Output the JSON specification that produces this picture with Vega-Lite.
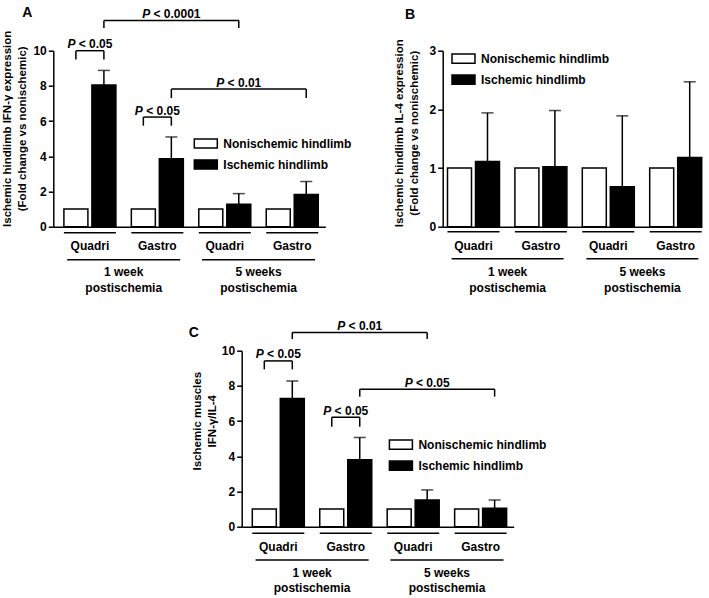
{
  "$schema": "https://vega.github.io/schema/vega-lite/v6.json",
  "autosize": {"type": "none"},
  "padding": {"left": 53.3, "top": 50.7, "right": 655.7, "bottom": 547.3},
  "background": "white",
  "datasets": {
    "bars": [
      {"panel": "A", "group": "1 week Quadri", "condition": "Nonischemic hindlimb", "value": 1},
      {"panel": "A", "group": "1 week Quadri", "condition": "Ischemic hindlimb", "value": 8.05, "hi": 8.88},
      {"panel": "A", "group": "1 week Gastro", "condition": "Nonischemic hindlimb", "value": 1},
      {"panel": "A", "group": "1 week Gastro", "condition": "Ischemic hindlimb", "value": 3.86, "hi": 5.1},
      {"panel": "A", "group": "5 weeks Quadri", "condition": "Nonischemic hindlimb", "value": 1},
      {"panel": "A", "group": "5 weeks Quadri", "condition": "Ischemic hindlimb", "value": 1.27, "hi": 1.88},
      {"panel": "A", "group": "5 weeks Gastro", "condition": "Nonischemic hindlimb", "value": 1},
      {"panel": "A", "group": "5 weeks Gastro", "condition": "Ischemic hindlimb", "value": 1.83, "hi": 2.57},
      {"panel": "B", "group": "1 week Quadri", "condition": "Nonischemic hindlimb", "value": 1},
      {"panel": "B", "group": "1 week Quadri", "condition": "Ischemic hindlimb", "value": 1.11, "hi": 1.94},
      {"panel": "B", "group": "1 week Gastro", "condition": "Nonischemic hindlimb", "value": 1},
      {"panel": "B", "group": "1 week Gastro", "condition": "Ischemic hindlimb", "value": 1.02, "hi": 1.98},
      {"panel": "B", "group": "5 weeks Quadri", "condition": "Nonischemic hindlimb", "value": 1},
      {"panel": "B", "group": "5 weeks Quadri", "condition": "Ischemic hindlimb", "value": 0.68, "hi": 1.89},
      {"panel": "B", "group": "5 weeks Gastro", "condition": "Nonischemic hindlimb", "value": 1},
      {"panel": "B", "group": "5 weeks Gastro", "condition": "Ischemic hindlimb", "value": 1.18, "hi": 2.47},
      {"panel": "C", "group": "1 week Quadri", "condition": "Nonischemic hindlimb", "value": 1},
      {"panel": "C", "group": "1 week Quadri", "condition": "Ischemic hindlimb", "value": 7.28, "hi": 8.28},
      {"panel": "C", "group": "1 week Gastro", "condition": "Nonischemic hindlimb", "value": 1},
      {"panel": "C", "group": "1 week Gastro", "condition": "Ischemic hindlimb", "value": 3.8, "hi": 5.07},
      {"panel": "C", "group": "5 weeks Quadri", "condition": "Nonischemic hindlimb", "value": 1},
      {"panel": "C", "group": "5 weeks Quadri", "condition": "Ischemic hindlimb", "value": 1.52, "hi": 2.09},
      {"panel": "C", "group": "5 weeks Gastro", "condition": "Nonischemic hindlimb", "value": 1},
      {"panel": "C", "group": "5 weeks Gastro", "condition": "Ischemic hindlimb", "value": 1.05, "hi": 1.52}
    ],
    "pairs": [
      {"panel": "A", "group": "1 week Quadri", "top": 10.0, "leg": 9.5, "label": "< 0.05"},
      {"panel": "A", "group": "1 week Gastro", "top": 6.23, "leg": 5.74, "label": "< 0.05"},
      {"panel": "C", "group": "1 week Quadri", "top": 9.42, "leg": 8.94, "label": "< 0.05"},
      {"panel": "C", "group": "1 week Gastro", "top": 6.22, "leg": 5.68, "label": "< 0.05"}
    ],
    "cross": [
      {"panel": "A", "from": "1 week Quadri", "to": "5 weeks Quadri", "mid": "1 week Gastro", "top": 11.72, "leg": 11.29, "label": "< 0.0001"},
      {"panel": "A", "from": "1 week Gastro", "to": "5 weeks Gastro", "mid": "5 weeks Quadri", "top": 7.82, "leg": 7.31, "label": "< 0.01"},
      {"panel": "C", "from": "1 week Quadri", "to": "5 weeks Quadri", "mid": "1 week Gastro", "top": 11.04, "leg": 10.66, "label": "< 0.01"},
      {"panel": "C", "from": "1 week Gastro", "to": "5 weeks Gastro", "mid": "5 weeks Quadri", "top": 7.81, "leg": 7.39, "label": "< 0.05"}
    ],
    "groups": [
      {"group": "1 week Quadri", "muscle": "Quadri"},
      {"group": "1 week Gastro", "muscle": "Gastro"},
      {"group": "5 weeks Quadri", "muscle": "Quadri"},
      {"group": "5 weeks Gastro", "muscle": "Gastro"}
    ],
    "weeks": [
      {"week": "1 week", "label": "1 week\npostischemia"},
      {"week": "5 weeks", "label": "5 weeks\npostischemia"}
    ]
  },
  "config": {
    "font": "Liberation Sans",
    "view": {"stroke": null},
    "axis": {"domainColor": "black", "domainWidth": 1.5, "tickColor": "black", "tickWidth": 1.5, "tickSize": 5, "labelFont": "Liberation Sans", "labelFontSize": 12, "labelFontWeight": "bold", "labelColor": "black", "labelPadding": 2, "labelOverlap": false, "labelBound": false, "titleFont": "Liberation Sans", "titleFontSize": 11.5, "titleFontWeight": "bold", "titleColor": "black", "titleLineHeight": 15, "titleBaseline": "middle", "grid": false},
    "legend": {"orient": "none", "padding": 0, "symbolType": "M-1,-0.4H1V0.4H-1Z", "symbolSize": 529, "symbolStrokeColor": "black", "symbolStrokeWidth": 1.5, "symbolOpacity": 1, "labelFont": "Liberation Sans", "labelFontSize": 12, "labelFontWeight": "bold", "labelColor": "black", "labelOffset": 5, "rowPadding": -2.3, "labelLimit": 300},
    "text": {"font": "Liberation Sans", "fontSize": 12, "fontWeight": "bold", "color": "black"},
    "rule": {"color": "black", "strokeWidth": 1.5},
    "tick": {"color": "black", "thickness": 1.5},
    "title": {"font": "Liberation Sans", "fontSize": 14, "fontWeight": "bold", "color": "black", "anchor": "start", "frame": "group"}
  },
  "vconcat": [
    {
      "hconcat": [
        {
          "width": 272, "height": 176,
          "title": {"text": "A", "dx": -31, "dy": 16},
          "resolve": {"scale": {"x": "independent"}, "axis": {"x": "independent"}},
          "layer": [
            {"layer": [
              {"data": {"name": "bars"}, "transform": [{"filter": "datum.panel == 'A'"}],
               "mark": {"type": "bar", "stroke": "black", "strokeWidth": 1.5},
               "encoding": {
                 "x": {"field": "group", "type": "nominal", "title": null, "scale": {"domain": ["1 week Quadri", "1 week Gastro", "5 weeks Quadri", "5 weeks Gastro"], "paddingInner": 0.229, "paddingOuter": 0.131, "align": 0.6}, "axis": {"labels": false, "ticks": false, "title": null}},
                 "xOffset": {"field": "condition", "type": "nominal", "scale": {"domain": ["Nonischemic hindlimb", "Ischemic hindlimb"], "paddingInner": 0.143, "paddingOuter": 0}},
                 "y": {"field": "value", "type": "quantitative", "scale": {"domain": [0, 10], "nice": false}, "axis": {"title": ["Ischemic hindlimb IFN-γ expression", "(Fold change vs nonischemic)"], "values": [0, 2, 4, 6, 8, 10], "tickCount": 6, "format": "d", "labelOverlap": false, "titleX": -46, "titleY": 77.6}},
                 "fill": {"field": "condition", "type": "nominal", "scale": {"domain": ["Nonischemic hindlimb", "Ischemic hindlimb"], "range": ["white", "black"]}, "legend": {"title": null, "legendX": 140, "legendY": 80.3}}
               }},
              {"data": {"name": "bars"}, "transform": [{"filter": "datum.panel == 'A' && isValid(datum.hi)"}],
               "mark": {"type": "rule", "strokeWidth": 1.5},
               "encoding": {
                 "x": {"field": "group", "type": "nominal", "scale": {"domain": ["1 week Quadri", "1 week Gastro", "5 weeks Quadri", "5 weeks Gastro"]}},
                 "xOffset": {"field": "condition", "type": "nominal", "scale": {"domain": ["Nonischemic hindlimb", "Ischemic hindlimb"]}},
                 "y": {"field": "value", "type": "quantitative", "scale": {"domain": [0, 10], "nice": false}},
                 "y2": {"field": "hi"}
               }},
              {"data": {"name": "bars"}, "transform": [{"filter": "datum.panel == 'A' && isValid(datum.hi)"}],
               "mark": {"type": "tick", "size": 12, "thickness": 1.5},
               "encoding": {
                 "x": {"field": "group", "type": "nominal", "scale": {"domain": ["1 week Quadri", "1 week Gastro", "5 weeks Quadri", "5 weeks Gastro"]}},
                 "xOffset": {"field": "condition", "type": "nominal", "scale": {"domain": ["Nonischemic hindlimb", "Ischemic hindlimb"]}},
                 "y": {"field": "hi", "type": "quantitative", "scale": {"domain": [0, 10], "nice": false}}
               }},
              {"data": {"name": "pairs"}, "transform": [{"filter": "datum.panel == 'A'"}],
               "mark": {"type": "rule"},
               "encoding": {
                 "x": {"field": "group", "type": "nominal", "bandPosition": 0.2308, "scale": {"domain": ["1 week Quadri", "1 week Gastro", "5 weeks Quadri", "5 weeks Gastro"]}},
                 "x2": {"field": "group", "bandPosition": 0.7692},
                 "y": {"field": "top", "type": "quantitative", "scale": {"domain": [0, 10], "nice": false}}
               }},
              {"data": {"name": "pairs"}, "transform": [{"filter": "datum.panel == 'A'"}],
               "mark": {"type": "rule"},
               "encoding": {
                 "x": {"field": "group", "type": "nominal", "bandPosition": 0.2308, "scale": {"domain": ["1 week Quadri", "1 week Gastro", "5 weeks Quadri", "5 weeks Gastro"]}},
                 "y": {"field": "top", "type": "quantitative", "scale": {"domain": [0, 10], "nice": false}},
                 "y2": {"field": "leg"}
               }},
              {"data": {"name": "pairs"}, "transform": [{"filter": "datum.panel == 'A'"}],
               "mark": {"type": "rule"},
               "encoding": {
                 "x": {"field": "group", "type": "nominal", "bandPosition": 0.7692, "scale": {"domain": ["1 week Quadri", "1 week Gastro", "5 weeks Quadri", "5 weeks Gastro"]}},
                 "y": {"field": "top", "type": "quantitative", "scale": {"domain": [0, 10], "nice": false}},
                 "y2": {"field": "leg"}
               }},
              {"data": {"name": "pairs"}, "transform": [{"filter": "datum.panel == 'A'"}],
               "mark": {"type": "text", "fontStyle": "italic", "align": "right", "baseline": "alphabetic", "dx": -14.5, "dy": -2.5},
               "encoding": {
                 "x": {"field": "group", "type": "nominal", "scale": {"domain": ["1 week Quadri", "1 week Gastro", "5 weeks Quadri", "5 weeks Gastro"]}},
                 "y": {"field": "top", "type": "quantitative", "scale": {"domain": [0, 10], "nice": false}},
                 "text": {"value": "P"}
               }},
              {"data": {"name": "pairs"}, "transform": [{"filter": "datum.panel == 'A'"}],
               "mark": {"type": "text", "align": "left", "baseline": "alphabetic", "dx": -11.2, "dy": -2.5},
               "encoding": {
                 "x": {"field": "group", "type": "nominal", "scale": {"domain": ["1 week Quadri", "1 week Gastro", "5 weeks Quadri", "5 weeks Gastro"]}},
                 "y": {"field": "top", "type": "quantitative", "scale": {"domain": [0, 10], "nice": false}},
                 "text": {"field": "label"}
               }},
              {"data": {"name": "cross"}, "transform": [{"filter": "datum.panel == 'A'"}],
               "mark": {"type": "rule"},
               "encoding": {
                 "x": {"field": "from", "type": "nominal", "bandPosition": 0.7692, "scale": {"domain": ["1 week Quadri", "1 week Gastro", "5 weeks Quadri", "5 weeks Gastro"]}},
                 "x2": {"field": "to", "bandPosition": 0.7692},
                 "y": {"field": "top", "type": "quantitative", "scale": {"domain": [0, 10], "nice": false}}
               }},
              {"data": {"name": "cross"}, "transform": [{"filter": "datum.panel == 'A'"}],
               "mark": {"type": "rule"},
               "encoding": {
                 "x": {"field": "from", "type": "nominal", "bandPosition": 0.7692, "scale": {"domain": ["1 week Quadri", "1 week Gastro", "5 weeks Quadri", "5 weeks Gastro"]}},
                 "y": {"field": "top", "type": "quantitative", "scale": {"domain": [0, 10], "nice": false}},
                 "y2": {"field": "leg"}
               }},
              {"data": {"name": "cross"}, "transform": [{"filter": "datum.panel == 'A'"}],
               "mark": {"type": "rule"},
               "encoding": {
                 "x": {"field": "to", "type": "nominal", "bandPosition": 0.7692, "scale": {"domain": ["1 week Quadri", "1 week Gastro", "5 weeks Quadri", "5 weeks Gastro"]}},
                 "y": {"field": "top", "type": "quantitative", "scale": {"domain": [0, 10], "nice": false}},
                 "y2": {"field": "leg"}
               }},
              {"data": {"name": "cross"}, "transform": [{"filter": "datum.panel == 'A'"}],
               "mark": {"type": "text", "fontStyle": "italic", "align": "right", "baseline": "alphabetic", "dx": {"expr": "length(datum.label) > 6 ? -21.2 : -14.5"}, "dy": -2.5},
               "encoding": {
                 "x": {"field": "mid", "type": "nominal", "bandPosition": 0.7692, "scale": {"domain": ["1 week Quadri", "1 week Gastro", "5 weeks Quadri", "5 weeks Gastro"]}},
                 "y": {"field": "top", "type": "quantitative", "scale": {"domain": [0, 10], "nice": false}},
                 "text": {"value": "P"}
               }},
              {"data": {"name": "cross"}, "transform": [{"filter": "datum.panel == 'A'"}],
               "mark": {"type": "text", "align": "left", "baseline": "alphabetic", "dx": {"expr": "length(datum.label) > 6 ? -17.9 : -11.2"}, "dy": -2.5},
               "encoding": {
                 "x": {"field": "mid", "type": "nominal", "bandPosition": 0.7692, "scale": {"domain": ["1 week Quadri", "1 week Gastro", "5 weeks Quadri", "5 weeks Gastro"]}},
                 "y": {"field": "top", "type": "quantitative", "scale": {"domain": [0, 10], "nice": false}},
                 "text": {"field": "label"}
               }},
              {"data": {"name": "groups"},
               "mark": {"type": "rule", "yOffset": 6, "y2Offset": 6},
               "encoding": {
                 "x": {"field": "group", "type": "nominal", "bandPosition": 0, "scale": {"domain": ["1 week Quadri", "1 week Gastro", "5 weeks Quadri", "5 weeks Gastro"]}},
                 "x2": {"field": "group", "bandPosition": 1},
                 "y": {"datum": 0, "type": "quantitative", "scale": {"domain": [0, 10], "nice": false}}
               }},
              {"data": {"name": "groups"},
               "mark": {"type": "text", "baseline": "middle", "dy": 19},
               "encoding": {
                 "x": {"field": "group", "type": "nominal", "scale": {"domain": ["1 week Quadri", "1 week Gastro", "5 weeks Quadri", "5 weeks Gastro"]}},
                 "y": {"datum": 0, "type": "quantitative", "scale": {"domain": [0, 10], "nice": false}},
                 "text": {"field": "muscle"}
               }}
            ]},
            {"data": {"name": "weeks"},
             "layer": [
              {"mark": {"type": "rule", "yOffset": 33, "y2Offset": 33},
               "encoding": {
                 "x": {"field": "week", "type": "nominal", "bandPosition": 0, "scale": {"domain": ["1 week", "5 weeks"], "paddingInner": 0.162, "paddingOuter": 0.0893, "align": 0.577}, "axis": null},
                 "x2": {"field": "week", "bandPosition": 1},
                 "y": {"datum": 0, "type": "quantitative", "scale": {"domain": [0, 10], "nice": false}}
               }},
              {"mark": {"type": "text", "lineBreak": "\n", "lineHeight": 16.5, "baseline": "middle", "dy": 45},
               "encoding": {
                 "x": {"field": "week", "type": "nominal", "scale": {"domain": ["1 week", "5 weeks"], "paddingInner": 0.162, "paddingOuter": 0.0893, "align": 0.577}, "axis": null},
                 "y": {"datum": 0, "type": "quantitative", "scale": {"domain": [0, 10], "nice": false}},
                 "text": {"field": "label"}
               }}
             ]}
          ]
        },
        {
          "width": 259, "height": 176,
          "title": {"text": "B", "dx": -37.7, "dy": -13.2},
          "resolve": {"scale": {"x": "independent"}, "axis": {"x": "independent"}},
          "layer": [
            {"layer": [
              {"data": {"name": "bars"}, "transform": [{"filter": "datum.panel == 'B'"}],
               "mark": {"type": "bar", "stroke": "black", "strokeWidth": 1.5},
               "encoding": {
                 "x": {"field": "group", "type": "nominal", "title": null, "scale": {"domain": ["1 week Quadri", "1 week Gastro", "5 weeks Quadri", "5 weeks Gastro"], "paddingInner": 0.2285, "paddingOuter": 0.0356, "align": 1}, "axis": {"labels": false, "ticks": false, "title": null}},
                 "xOffset": {"field": "condition", "type": "nominal", "scale": {"domain": ["Nonischemic hindlimb", "Ischemic hindlimb"], "paddingInner": 0.143, "paddingOuter": 0}},
                 "y": {"field": "value", "type": "quantitative", "scale": {"domain": [0, 3], "nice": false}, "axis": {"title": ["Ischemic hindlimb IL-4 expression", "(Fold change vs nonischemic)"], "values": [0, 1, 2, 3], "tickCount": 4, "format": "d", "labelOverlap": false, "titleX": -43.5, "titleY": 82}},
                 "fill": {"field": "condition", "type": "nominal", "scale": {"domain": ["Nonischemic hindlimb", "Ischemic hindlimb"], "range": ["white", "black"]}, "legend": {"title": null, "legendX": 8.3, "legendY": -4.5}}
               }},
              {"data": {"name": "bars"}, "transform": [{"filter": "datum.panel == 'B' && isValid(datum.hi)"}],
               "mark": {"type": "rule", "strokeWidth": 1.5},
               "encoding": {
                 "x": {"field": "group", "type": "nominal", "scale": {"domain": ["1 week Quadri", "1 week Gastro", "5 weeks Quadri", "5 weeks Gastro"]}},
                 "xOffset": {"field": "condition", "type": "nominal", "scale": {"domain": ["Nonischemic hindlimb", "Ischemic hindlimb"]}},
                 "y": {"field": "value", "type": "quantitative", "scale": {"domain": [0, 3], "nice": false}},
                 "y2": {"field": "hi"}
               }},
              {"data": {"name": "bars"}, "transform": [{"filter": "datum.panel == 'B' && isValid(datum.hi)"}],
               "mark": {"type": "tick", "size": 12, "thickness": 1.5},
               "encoding": {
                 "x": {"field": "group", "type": "nominal", "scale": {"domain": ["1 week Quadri", "1 week Gastro", "5 weeks Quadri", "5 weeks Gastro"]}},
                 "xOffset": {"field": "condition", "type": "nominal", "scale": {"domain": ["Nonischemic hindlimb", "Ischemic hindlimb"]}},
                 "y": {"field": "hi", "type": "quantitative", "scale": {"domain": [0, 3], "nice": false}}
               }},
              {"data": {"name": "groups"},
               "mark": {"type": "rule", "yOffset": 5, "y2Offset": 5},
               "encoding": {
                 "x": {"field": "group", "type": "nominal", "bandPosition": 0, "scale": {"domain": ["1 week Quadri", "1 week Gastro", "5 weeks Quadri", "5 weeks Gastro"]}},
                 "x2": {"field": "group", "bandPosition": 1},
                 "y": {"datum": 0, "type": "quantitative", "scale": {"domain": [0, 3], "nice": false}}
               }},
              {"data": {"name": "groups"},
               "mark": {"type": "text", "baseline": "middle", "dy": 19},
               "encoding": {
                 "x": {"field": "group", "type": "nominal", "scale": {"domain": ["1 week Quadri", "1 week Gastro", "5 weeks Quadri", "5 weeks Gastro"]}},
                 "y": {"datum": 0, "type": "quantitative", "scale": {"domain": [0, 3], "nice": false}},
                 "text": {"field": "muscle"}
               }}
            ]},
            {"data": {"name": "weeks"},
             "layer": [
              {"mark": {"type": "rule", "yOffset": 32, "y2Offset": 32},
               "encoding": {
                 "x": {"field": "week", "type": "nominal", "bandPosition": 0, "scale": {"domain": ["1 week", "5 weeks"], "paddingInner": 0.169, "paddingOuter": 0.0453, "align": 0.73}, "axis": null},
                 "x2": {"field": "week", "bandPosition": 1},
                 "y": {"datum": 0, "type": "quantitative", "scale": {"domain": [0, 3], "nice": false}}
               }},
              {"mark": {"type": "text", "lineBreak": "\n", "lineHeight": 16.5, "baseline": "middle", "dy": 45},
               "encoding": {
                 "x": {"field": "week", "type": "nominal", "scale": {"domain": ["1 week", "5 weeks"], "paddingInner": 0.169, "paddingOuter": 0.0453, "align": 0.73}, "axis": null},
                 "y": {"datum": 0, "type": "quantitative", "scale": {"domain": [0, 3], "nice": false}},
                 "text": {"field": "label"}
               }}
             ]}
          ]
        }
      ],
      "spacing": 117.4,
      "bounds": "flush",
      "resolve": {"scale": {"fill": "independent"}, "legend": {"fill": "independent"}}
    },
    {
      "hconcat": [
        {
          "width": 70.8, "height": 176,
          "data": {"values": []},
          "mark": {"type": "point", "opacity": 0},
          "encoding": {}
        },
        {
          "width": 272, "height": 176,
          "title": {"text": "C", "dx": -53, "dy": 23.7},
          "resolve": {"scale": {"x": "independent"}, "axis": {"x": "independent"}},
          "layer": [
            {"layer": [
              {"data": {"name": "bars"}, "transform": [{"filter": "datum.panel == 'C'"}],
               "mark": {"type": "bar", "stroke": "black", "strokeWidth": 1.5},
               "encoding": {
                 "x": {"field": "group", "type": "nominal", "title": null, "scale": {"domain": ["1 week Quadri", "1 week Gastro", "5 weeks Quadri", "5 weeks Gastro"], "paddingInner": 0.229, "paddingOuter": 0.131, "align": 0.6}, "axis": {"labels": false, "ticks": false, "title": null}},
                 "xOffset": {"field": "condition", "type": "nominal", "scale": {"domain": ["Nonischemic hindlimb", "Ischemic hindlimb"], "paddingInner": 0.143, "paddingOuter": 0}},
                 "y": {"field": "value", "type": "quantitative", "scale": {"domain": [0, 10], "nice": false}, "axis": {"title": ["Ischemic muscles", "IFN-γ/IL-4"], "values": [0, 2, 4, 6, 8, 10], "tickCount": 6, "format": "d", "labelOverlap": false, "titleX": -44, "titleY": 70}},
                 "fill": {"field": "condition", "type": "nominal", "scale": {"domain": ["Nonischemic hindlimb", "Ischemic hindlimb"], "range": ["white", "black"]}, "legend": {"title": null, "legendX": 146.7, "legendY": 81.5}}
               }},
              {"data": {"name": "bars"}, "transform": [{"filter": "datum.panel == 'C' && isValid(datum.hi)"}],
               "mark": {"type": "rule", "strokeWidth": 1.5},
               "encoding": {
                 "x": {"field": "group", "type": "nominal", "scale": {"domain": ["1 week Quadri", "1 week Gastro", "5 weeks Quadri", "5 weeks Gastro"]}},
                 "xOffset": {"field": "condition", "type": "nominal", "scale": {"domain": ["Nonischemic hindlimb", "Ischemic hindlimb"]}},
                 "y": {"field": "value", "type": "quantitative", "scale": {"domain": [0, 10], "nice": false}},
                 "y2": {"field": "hi"}
               }},
              {"data": {"name": "bars"}, "transform": [{"filter": "datum.panel == 'C' && isValid(datum.hi)"}],
               "mark": {"type": "tick", "size": 12, "thickness": 1.5},
               "encoding": {
                 "x": {"field": "group", "type": "nominal", "scale": {"domain": ["1 week Quadri", "1 week Gastro", "5 weeks Quadri", "5 weeks Gastro"]}},
                 "xOffset": {"field": "condition", "type": "nominal", "scale": {"domain": ["Nonischemic hindlimb", "Ischemic hindlimb"]}},
                 "y": {"field": "hi", "type": "quantitative", "scale": {"domain": [0, 10], "nice": false}}
               }},
              {"data": {"name": "pairs"}, "transform": [{"filter": "datum.panel == 'C'"}],
               "mark": {"type": "rule"},
               "encoding": {
                 "x": {"field": "group", "type": "nominal", "bandPosition": 0.2308, "scale": {"domain": ["1 week Quadri", "1 week Gastro", "5 weeks Quadri", "5 weeks Gastro"]}},
                 "x2": {"field": "group", "bandPosition": 0.7692},
                 "y": {"field": "top", "type": "quantitative", "scale": {"domain": [0, 10], "nice": false}}
               }},
              {"data": {"name": "pairs"}, "transform": [{"filter": "datum.panel == 'C'"}],
               "mark": {"type": "rule"},
               "encoding": {
                 "x": {"field": "group", "type": "nominal", "bandPosition": 0.2308, "scale": {"domain": ["1 week Quadri", "1 week Gastro", "5 weeks Quadri", "5 weeks Gastro"]}},
                 "y": {"field": "top", "type": "quantitative", "scale": {"domain": [0, 10], "nice": false}},
                 "y2": {"field": "leg"}
               }},
              {"data": {"name": "pairs"}, "transform": [{"filter": "datum.panel == 'C'"}],
               "mark": {"type": "rule"},
               "encoding": {
                 "x": {"field": "group", "type": "nominal", "bandPosition": 0.7692, "scale": {"domain": ["1 week Quadri", "1 week Gastro", "5 weeks Quadri", "5 weeks Gastro"]}},
                 "y": {"field": "top", "type": "quantitative", "scale": {"domain": [0, 10], "nice": false}},
                 "y2": {"field": "leg"}
               }},
              {"data": {"name": "pairs"}, "transform": [{"filter": "datum.panel == 'C'"}],
               "mark": {"type": "text", "fontStyle": "italic", "align": "right", "baseline": "alphabetic", "dx": -14.5, "dy": -2.5},
               "encoding": {
                 "x": {"field": "group", "type": "nominal", "scale": {"domain": ["1 week Quadri", "1 week Gastro", "5 weeks Quadri", "5 weeks Gastro"]}},
                 "y": {"field": "top", "type": "quantitative", "scale": {"domain": [0, 10], "nice": false}},
                 "text": {"value": "P"}
               }},
              {"data": {"name": "pairs"}, "transform": [{"filter": "datum.panel == 'C'"}],
               "mark": {"type": "text", "align": "left", "baseline": "alphabetic", "dx": -11.2, "dy": -2.5},
               "encoding": {
                 "x": {"field": "group", "type": "nominal", "scale": {"domain": ["1 week Quadri", "1 week Gastro", "5 weeks Quadri", "5 weeks Gastro"]}},
                 "y": {"field": "top", "type": "quantitative", "scale": {"domain": [0, 10], "nice": false}},
                 "text": {"field": "label"}
               }},
              {"data": {"name": "cross"}, "transform": [{"filter": "datum.panel == 'C'"}],
               "mark": {"type": "rule"},
               "encoding": {
                 "x": {"field": "from", "type": "nominal", "bandPosition": 0.7692, "scale": {"domain": ["1 week Quadri", "1 week Gastro", "5 weeks Quadri", "5 weeks Gastro"]}},
                 "x2": {"field": "to", "bandPosition": 0.7692},
                 "y": {"field": "top", "type": "quantitative", "scale": {"domain": [0, 10], "nice": false}}
               }},
              {"data": {"name": "cross"}, "transform": [{"filter": "datum.panel == 'C'"}],
               "mark": {"type": "rule"},
               "encoding": {
                 "x": {"field": "from", "type": "nominal", "bandPosition": 0.7692, "scale": {"domain": ["1 week Quadri", "1 week Gastro", "5 weeks Quadri", "5 weeks Gastro"]}},
                 "y": {"field": "top", "type": "quantitative", "scale": {"domain": [0, 10], "nice": false}},
                 "y2": {"field": "leg"}
               }},
              {"data": {"name": "cross"}, "transform": [{"filter": "datum.panel == 'C'"}],
               "mark": {"type": "rule"},
               "encoding": {
                 "x": {"field": "to", "type": "nominal", "bandPosition": 0.7692, "scale": {"domain": ["1 week Quadri", "1 week Gastro", "5 weeks Quadri", "5 weeks Gastro"]}},
                 "y": {"field": "top", "type": "quantitative", "scale": {"domain": [0, 10], "nice": false}},
                 "y2": {"field": "leg"}
               }},
              {"data": {"name": "cross"}, "transform": [{"filter": "datum.panel == 'C'"}],
               "mark": {"type": "text", "fontStyle": "italic", "align": "right", "baseline": "alphabetic", "dx": {"expr": "length(datum.label) > 6 ? -21.2 : -14.5"}, "dy": -2.5},
               "encoding": {
                 "x": {"field": "mid", "type": "nominal", "bandPosition": 0.7692, "scale": {"domain": ["1 week Quadri", "1 week Gastro", "5 weeks Quadri", "5 weeks Gastro"]}},
                 "y": {"field": "top", "type": "quantitative", "scale": {"domain": [0, 10], "nice": false}},
                 "text": {"value": "P"}
               }},
              {"data": {"name": "cross"}, "transform": [{"filter": "datum.panel == 'C'"}],
               "mark": {"type": "text", "align": "left", "baseline": "alphabetic", "dx": {"expr": "length(datum.label) > 6 ? -17.9 : -11.2"}, "dy": -2.5},
               "encoding": {
                 "x": {"field": "mid", "type": "nominal", "bandPosition": 0.7692, "scale": {"domain": ["1 week Quadri", "1 week Gastro", "5 weeks Quadri", "5 weeks Gastro"]}},
                 "y": {"field": "top", "type": "quantitative", "scale": {"domain": [0, 10], "nice": false}},
                 "text": {"field": "label"}
               }},
              {"data": {"name": "groups"},
               "mark": {"type": "rule", "yOffset": 6.5, "y2Offset": 6.5},
               "encoding": {
                 "x": {"field": "group", "type": "nominal", "bandPosition": 0, "scale": {"domain": ["1 week Quadri", "1 week Gastro", "5 weeks Quadri", "5 weeks Gastro"]}},
                 "x2": {"field": "group", "bandPosition": 1},
                 "y": {"datum": 0, "type": "quantitative", "scale": {"domain": [0, 10], "nice": false}}
               }},
              {"data": {"name": "groups"},
               "mark": {"type": "text", "baseline": "middle", "dy": 20},
               "encoding": {
                 "x": {"field": "group", "type": "nominal", "scale": {"domain": ["1 week Quadri", "1 week Gastro", "5 weeks Quadri", "5 weeks Gastro"]}},
                 "y": {"datum": 0, "type": "quantitative", "scale": {"domain": [0, 10], "nice": false}},
                 "text": {"field": "muscle"}
               }}
            ]},
            {"data": {"name": "weeks"},
             "layer": [
              {"mark": {"type": "rule", "yOffset": 33.3, "y2Offset": 33.3},
               "encoding": {
                 "x": {"field": "week", "type": "nominal", "bandPosition": 0, "scale": {"domain": ["1 week", "5 weeks"], "paddingInner": 0.162, "paddingOuter": 0.0893, "align": 0.577}, "axis": null},
                 "x2": {"field": "week", "bandPosition": 1},
                 "y": {"datum": 0, "type": "quantitative", "scale": {"domain": [0, 10], "nice": false}}
               }},
              {"mark": {"type": "text", "lineBreak": "\n", "lineHeight": 15, "baseline": "middle", "dy": 46.5},
               "encoding": {
                 "x": {"field": "week", "type": "nominal", "scale": {"domain": ["1 week", "5 weeks"], "paddingInner": 0.162, "paddingOuter": 0.0893, "align": 0.577}, "axis": null},
                 "y": {"datum": 0, "type": "quantitative", "scale": {"domain": [0, 10], "nice": false}},
                 "text": {"field": "label"}
               }}
             ]}
          ]
        }
      ],
      "spacing": 117.4,
      "bounds": "flush",
      "resolve": {"scale": {"fill": "independent"}, "legend": {"fill": "independent"}}
    }
  ],
  "spacing": 300,
  "bounds": "flush",
  "resolve": {"scale": {"fill": "independent"}, "legend": {"fill": "independent"}}
}
